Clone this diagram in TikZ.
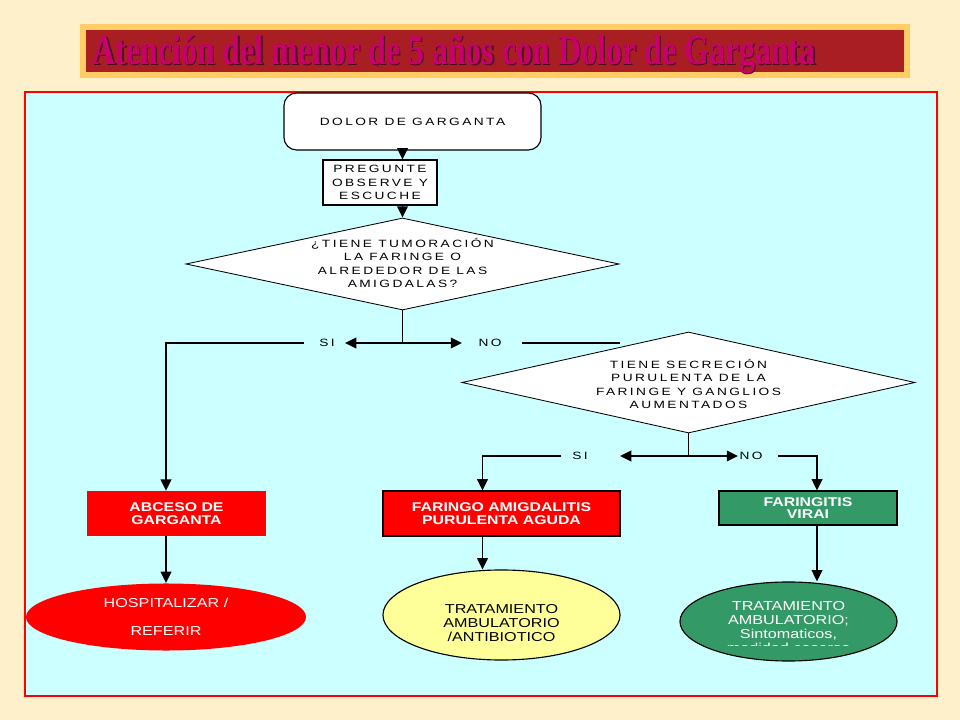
\documentclass[tikz,border=0pt]{standalone}
\usepackage{fontspec}
\setmainfont{Liberation Serif}
\newfontfamily\flowfont[LetterSpace=23,FakeStretch=1.3]{Liberation Sans}
\newfontfamily\boxfont[FakeStretch=1.25]{Liberation Sans}
\usetikzlibrary{shapes.geometric,arrows.meta}

\definecolor{cream}{HTML}{FDF0CB}
\definecolor{titleframe}{HTML}{FFCC66}
\definecolor{titlered}{HTML}{A81E22}
\definecolor{titletext}{HTML}{C8006E}
\definecolor{titleshade}{HTML}{4A0A20}
\definecolor{panel}{HTML}{CCFFFF}
\definecolor{alertred}{HTML}{FF0000}
\definecolor{paleyellow}{HTML}{FFFF99}
\definecolor{seagreen}{HTML}{339966}

\begin{document}
\begin{tikzpicture}[x=0.025cm, y=-0.025cm,
	every node/.style={inner sep=0pt},
	conn/.style={line width=1.3pt},
	arr/.style={conn, -{Triangle[length=8pt,width=7.5pt]}},
	flow/.style={font=\flowfont\fontsize{7.5}{9.6}\selectfont, align=center},
	start/.style={flow, draw, fill=white, line width=0.8pt, rounded corners=9pt},
	process/.style={flow, draw, fill=white, line width=0.8pt},
	decision/.style={diamond, draw, fill=white, line width=0.6pt},
	result/.style={font=\boxfont\bfseries\fontsize{9}{9}\selectfont, text=white, align=center},
	oval/.style={ellipse, line width=0.8pt},
	ovaltext/.style={font=\boxfont\fontsize{9.2}{10}\selectfont, align=center},
	heading/.style={font=\fontsize{30}{30}\selectfont\bfseries}]
	\useasboundingbox (0,0) rectangle (960,720);
	\fill[cream] (0,0) rectangle (960,720);
	% title bar
	\fill[titleframe] (80,24) rectangle (910,78);
	\fill[titlered] (86,30) rectangle (904,72);
	\node[heading, text=titleshade] (titleshadow) at (455.5,55.5)
		{\scalebox{0.757}[1]{Atención del menor de 5 años con Dolor de Garganta}};
	\node[heading, text=titletext] (title) at (454,54)
		{\scalebox{0.757}[1]{Atención del menor de 5 años con Dolor de Garganta}};
	% panel
	\draw[alertred, line width=1.5pt, fill=panel] (25,92) rectangle (937,696);

	\node[start, minimum width=6.425cm, minimum height=1.425cm] (dolor) at (412.5,121.5) {DOLOR DE GARGANTA};
	\node[process, minimum width=2.85cm, minimum height=1.125cm] (preg) at (380,182.5) {PREGUNTE\\OBSERVE Y\\ESCUCHE};
	\node[decision, minimum width=10.825cm, minimum height=2.3cm] (tumor) at (402.5,264) {};
	\node[flow] (tumortxt) at (402.5,263) {¿TIENE TUMORACIÓN\\LA FARINGE O\\ALREDEDOR DE LAS\\AMIGDALAS?};
	\node[decision, minimum width=11.325cm, minimum height=2.525cm] (secrec) at (688.5,382.5) {};
	\node[flow] (secrectxt) at (688.5,384) {TIENE SECRECIÓN\\PURULENTA DE LA\\FARINGE Y GANGLIOS\\AUMENTADOS};

	\draw[arr] (dolor.south -| tumor.north) -- (preg.north -| tumor.north);
	\draw[arr] (preg.south -| tumor.north) -- (tumor.north);

	% first branch
	\coordinate (j1) at (402.5,343);
	\node[flow] (si1) at (327,343) {SI};
	\node[flow] (no1) at (490,343) {NO};
	\coordinate (si1tip) at (345,343);
	\coordinate (si1out) at (304,343);
	\coordinate (no1tip) at (462,343);
	\coordinate (no1out) at (522,343);
	\coordinate (no1end) at (620,343);
	\draw[conn] (tumor.south) -- (j1);
	\draw[arr] (j1) -- (si1tip);
	\draw[arr] (j1) -- (no1tip);
	\draw[conn] (no1out) -- (no1end);

	% second branch
	\coordinate (j2) at (688.5,456);
	\node[flow] (si2) at (580,456) {SI};
	\node[flow] (no2) at (751,456) {NO};
	\coordinate (si2tip) at (620,456);
	\coordinate (si2out) at (561,456);
	\coordinate (no2tip) at (738,456);
	\coordinate (no2out) at (778,456);
	\draw[conn] (secrec.south) -- (j2);
	\draw[arr] (j2) -- (si2tip);
	\draw[arr] (j2) -- (no2tip);

	% results
	\node[result, fill=alertred, minimum width=4.475cm, minimum height=1.125cm] (abceso) at (176.5,513.5) {ABCESO DE\\GARGANTA};
	\node[result, draw, line width=0.8pt, fill=alertred, minimum width=5.925cm, minimum height=1.125cm] (faringo) at (501.5,513.5) {FARINGO AMIGDALITIS\\PURULENTA AGUDA};
	\node[result, draw, line width=0.8pt, fill=seagreen, minimum width=4.45cm, minimum height=0.85cm] (faringitis) at (808,508) {FARINGITIS\\VIRAI};

	\node[oval, fill=alertred, minimum width=7cm, minimum height=1.675cm] (hosp) at (166,617) {};
	\node[ovaltext, text=white, font=\boxfont\fontsize{9.2}{20}\selectfont] (hosptxt) at (166,617) {HOSPITALIZAR /\\REFERIR};
	\node[oval, draw, fill=paleyellow, minimum width=5.925cm, minimum height=2.25cm] (trata) at (501.5,615) {};
	\node[ovaltext] (tratatxt) at (501.5,623) {TRATAMIENTO\\AMBULATORIO\\/ANTIBIOTICO};
	\node[oval, draw, fill=seagreen, minimum width=5.425cm, minimum height=1.975cm] (tratb) at (788.5,621.5) {};
	\begin{scope}
		\clip (680,580) rectangle (900,645);
		\node[ovaltext, text=white] (tratbtxt) at (788.5,627) {TRATAMIENTO\\AMBULATORIO;\\Sintomaticos,\\medidad caseras};
	\end{scope}

	\coordinate (purul) at ([xshift=-0.475cm]faringo.south);
	\coordinate (viral) at ([xshift=0.225cm]faringitis.south);
	\draw[arr] (si1out) -| (abceso.north -| hosp.north);
	\draw[arr] (si2out) -| (faringo.north -| purul);
	\draw[arr] (no2out) -| (faringitis.north -| viral);
	\draw[arr] (abceso.south -| hosp.north) -- (hosp.north);
	\draw[arr] (purul) -- (purul |- trata.north);
	\draw[arr] (viral) -- (viral |- tratb.north);
\end{tikzpicture}
\end{document}
